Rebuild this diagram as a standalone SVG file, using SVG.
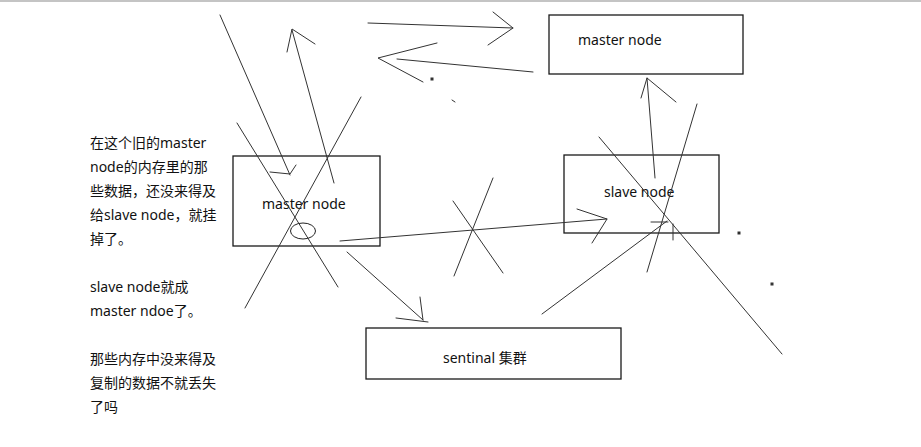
<svg xmlns="http://www.w3.org/2000/svg" width="921" height="447" viewBox="0 0 921 447">
<style>
.box{fill:#fff;stroke:#1a1a1a;stroke-width:1.3}
.t{font-family:"Noto Sans","Noto Sans CJK SC",sans-serif;font-size:14px;fill:#111}
.l{stroke:#333;stroke-width:1;fill:none;stroke-linecap:round}
</style>
<rect x="0" y="0" width="921" height="447" fill="#fff"/>
<rect x="0" y="0" width="921" height="2" fill="#c4c4c4"/>
<g id="note">
<text class="t" x="90" y="148">在这个旧的master</text>
<text class="t" x="90" y="172">node的内存里的那</text>
<text class="t" x="90" y="196">些数据，还没来得及</text>
<text class="t" x="90" y="220">给slave node，就挂</text>
<text class="t" x="90" y="244">掉了。</text>
<text class="t" x="90" y="292">slave node就成</text>
<text class="t" x="90" y="316">master ndoe了。</text>
<text class="t" x="90" y="364">那些内存中没来得及</text>
<text class="t" x="90" y="388">复制的数据不就丢失</text>
<text class="t" x="90" y="412">了吗</text>
</g>
<g id="master-new">
<rect class="box" x="549" y="15" width="194" height="59"/>
<text class="t" x="578" y="45">master node</text>
</g>
<g id="master-old">
<rect class="box" x="233" y="156" width="147" height="90"/>
<text class="t" x="262" y="209">master node</text>
<ellipse cx="303" cy="231" rx="12.5" ry="8" fill="none" stroke="#222" stroke-width="1"/>
</g>
<g id="slave">
<rect class="box" x="564" y="155" width="155" height="78"/>
<text class="t" x="604" y="197">slave node</text>
</g>
<g id="sentinel">
<rect class="box" x="366" y="328" width="255" height="51"/>
<text class="t" x="443" y="363">sentinal 集群</text>
</g>
<g id="connectors" class="l">
<line class="l" x1="368" y1="23" x2="513" y2="28"/>
<polyline class="l" points="493,12 513,28 488,45"/>
<line class="l" x1="533" y1="72" x2="397" y2="59"/>
<polyline class="l" points="437,43 378,58 423,82"/>
<line class="l" x1="220" y1="15" x2="290" y2="175"/>
<polyline class="l" points="270,172 290,174 296,165"/>
<line class="l" x1="237" y1="123" x2="338" y2="287"/>
<line class="l" x1="334" y1="183" x2="292" y2="30"/>
<polyline class="l" points="287,52 292,29 315,44"/>
<line class="l" x1="361" y1="97" x2="245" y2="308"/>
<line class="l" x1="340" y1="241" x2="607" y2="219"/>
<polyline class="l" points="577,209 607,219 592,243"/>
<line class="l" x1="453" y1="201" x2="503" y2="273"/>
<line class="l" x1="493" y1="178" x2="454" y2="276"/>
<line class="l" x1="347" y1="252" x2="423" y2="320"/>
<polyline class="l" points="420,297 423,320"/>
<line class="l" x1="396" y1="318" x2="428" y2="322"/>
<line class="l" x1="542" y1="314" x2="667" y2="221"/>
<line class="l" x1="651" y1="222" x2="668" y2="222"/>
<line class="l" x1="673" y1="224" x2="673" y2="240"/>
<line class="l" x1="655" y1="178" x2="647" y2="78"/>
<polyline class="l" points="641,98 647,78 676,102"/>
<line class="l" x1="697" y1="104" x2="647" y2="272"/>
<line class="l" x1="599" y1="137" x2="782" y2="354"/>
<rect x="431" y="78" width="2" height="2" fill="#333"/>
<line class="l" x1="452" y1="100" x2="455" y2="102"/>
<rect x="738" y="232" width="2" height="2" fill="#222"/>
<rect x="771" y="283" width="2" height="2" fill="#444"/>
</g>
</svg>
